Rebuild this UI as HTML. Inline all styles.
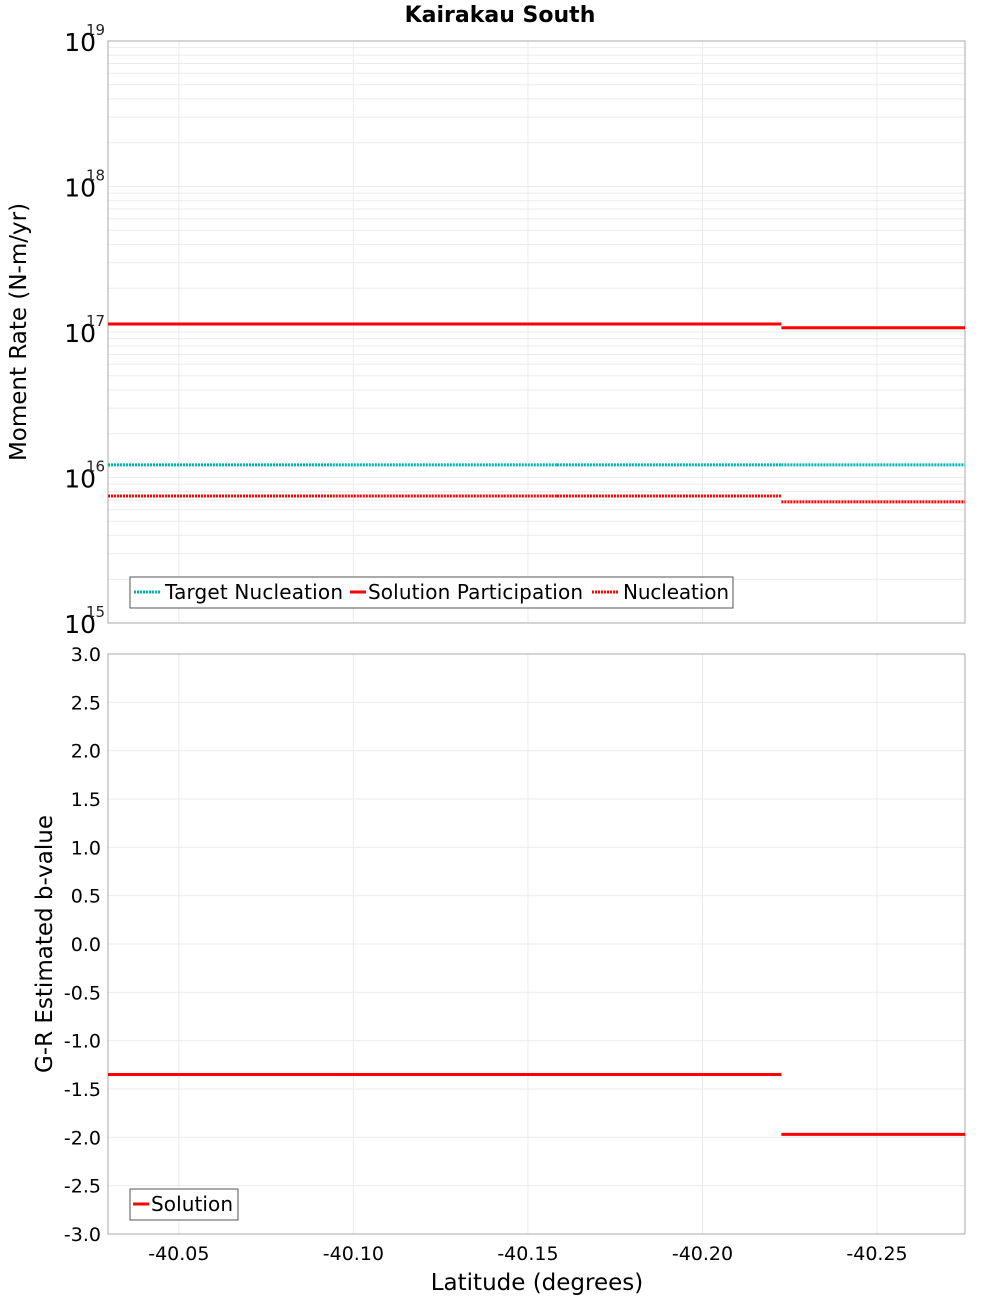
<!DOCTYPE html>
<html><head><meta charset="utf-8"><style>
body{margin:0;background:#fff;font-family:"DejaVu Sans","Liberation Sans",sans-serif}
svg{display:block}
</style></head><body>
<svg id="c" width="1000" height="1300" xmlns="http://www.w3.org/2000/svg" font-family="DejaVu Sans, Liberation Sans, sans-serif"></svg>
<script>
const segEdges=[-40.0297,-40.0941,-40.1583,-40.2226,-40.2752];
const targetNucleation=[1.22e16,1.22e16,1.22e16,1.22e16];
const solutionParticipation=[1.135e17,1.135e17,1.135e17,1.07e17];
const nucleation=[7.46e15,7.46e15,7.46e15,6.8e15];
const bValues=[-1.35,-1.35,-1.35,-1.97];
const xTicks=[-40.05,-40.10,-40.15,-40.20,-40.25];
const xTickLabels=["-40.05","-40.10","-40.15","-40.20","-40.25"];
const logDecades=[15,16,17,18,19];
const bTicks=[-3,-2.5,-2,-1.5,-1,-0.5,0,0.5,1,1.5,2,2.5,3];

const NS="http://www.w3.org/2000/svg";
const svg=document.getElementById('c');
const L=108,R=965,T1=41,B1=623,T2=654,B2=1234;
const xMin=-40.0297,xMax=-40.2752;
const X=v=>L+(v-xMin)/(xMax-xMin)*(R-L);
const Y1=v=>B1-(Math.log10(v)-15)/4*(B1-T1);
const Y2=v=>B2-(v+3)/6*(B2-T2);
function el(tag,attrs,parent){const e=document.createElementNS(NS,tag);for(const k in attrs)e.setAttribute(k,attrs[k]);(parent||svg).appendChild(e);return e;}
function txt(s,attrs){const e=el('text',attrs);e.textContent=s;return e;}

let t=txt("Kairakau South",{x:500,y:22,"text-anchor":"middle","font-size":22,"font-weight":"bold"});


let g=el('g',{});

for(let d=15;d<19;d++)for(let m=1;m<10;m++){const y=Y1(m*Math.pow(10,d));el('line',{x1:L,x2:R,y1:y,y2:y,stroke:"#ebebeb","stroke-width":1},g);}
xTicks.forEach(v=>{el('line',{x1:X(v),x2:X(v),y1:T1,y2:B1,stroke:"#ebebeb"},g);el('line',{x1:X(v),x2:X(v),y1:T2,y2:B2,stroke:"#ebebeb"},g);});
bTicks.forEach(v=>el('line',{x1:L,x2:R,y1:Y2(v),y2:Y2(v),stroke:"#ebebeb"},g));

let f1=el('rect',{x:L,y:T1,width:R-L,height:B1-T1,fill:"none",stroke:"#aaa"});

let f2=el('rect',{x:L,y:T2,width:R-L,height:B2-T2,fill:"none",stroke:"#aaa"});


logDecades.forEach(d=>{const y=Y1(Math.pow(10,d));
 const a=txt("10",{x:96,y:y+10,"text-anchor":"end","font-size":25});
 
 const b=txt(String(d),{x:86,y:y-6,"font-size":15,fill:"#222"});
 });
bTicks.forEach(v=>{const a=txt(v.toFixed(1),{x:101,y:Y2(v)+7,"text-anchor":"end","font-size":19});
 });
xTicks.forEach((v,i)=>{const a=txt(xTickLabels[i],{x:X(v),y:1260,"text-anchor":"middle","font-size":19});
 });

let yt=txt("Moment Rate (N-m/yr)",{x:0,y:0,transform:"translate(26,332) rotate(-90)","text-anchor":"middle","font-size":23});

let yt2=txt("G-R Estimated b-value",{x:0,y:0,transform:"translate(52,944) rotate(-90)","text-anchor":"middle","font-size":23});

let xt=txt("Latitude (degrees)",{x:537,y:1290,"text-anchor":"middle","font-size":23});


function steps(vals,yf,color,dash,name){
 let d="";vals.forEach((v,i)=>{const x1=X(segEdges[i]),x2=X(segEdges[i+1]),y=yf(v);d+="M"+x1+","+y+"L"+x2+","+y;});
 const p=el('path',{d:d,fill:"none",stroke:color,"stroke-width":3});
 if(dash)p.setAttribute('stroke-dasharray',dash);
 }
steps(targetNucleation,Y1,"#00b4b4","2,1","target-nucleation-line");
steps(nucleation,Y1,"#ff0000","2,1","nucleation-line");
steps(solutionParticipation,Y1,"#ff0000",null,"solution-participation-line");
steps(bValues,Y2,"#ff0000",null,"b-value-solution-line");

let lg=el('g',{});
el('rect',{x:130,y:577,width:603,height:31,fill:"#fff",stroke:"#555"},lg);
el('line',{x1:134,x2:161,y1:592,y2:592,stroke:"#00b4b4","stroke-width":3,"stroke-dasharray":"2,1"},lg);
let a=el('text',{x:165,y:599,"font-size":20,textLength:178},lg);a.textContent="Target Nucleation";
el('line',{x1:350,x2:366,y1:592,y2:592,stroke:"#ff0000","stroke-width":3},lg);
a=el('text',{x:368,y:599,"font-size":20,textLength:215},lg);a.textContent="Solution Participation";
el('line',{x1:592,x2:619,y1:592,y2:592,stroke:"#ff0000","stroke-width":3,"stroke-dasharray":"2,1"},lg);
a=el('text',{x:623,y:599,"font-size":20,textLength:106},lg);a.textContent="Nucleation";
let lg2=el('g',{});
el('rect',{x:130,y:1189,width:108,height:31,fill:"#fff",stroke:"#555"},lg2);
el('line',{x1:133,x2:149,y1:1204,y2:1204,stroke:"#ff0000","stroke-width":3},lg2);
a=el('text',{x:151,y:1211,"font-size":20,textLength:82},lg2);a.textContent="Solution";
</script>
</body></html>
